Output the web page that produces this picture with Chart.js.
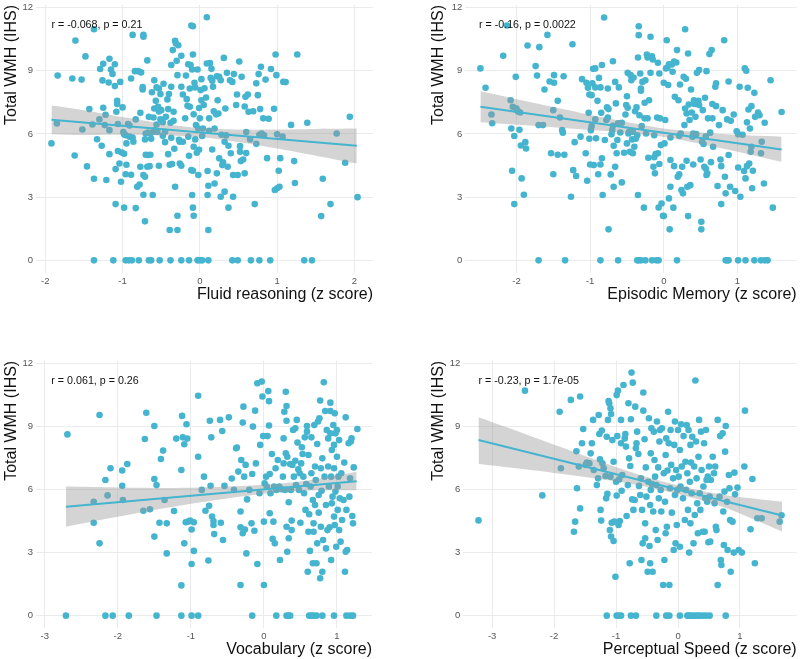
<!DOCTYPE html>
<html><head><meta charset="utf-8">
<script src="https://cdn.jsdelivr.net/npm/chart.js@4.4.1/dist/chart.umd.min.js"></script>
<style>
html,body{margin:0;padding:0;background:#fff;width:800px;height:659px;overflow:hidden}
canvas{position:absolute}
</style></head><body>
<canvas id="c1" width="400" height="330" style="left:0;top:0"></canvas>
<canvas id="c2" width="400" height="330" style="left:400px;top:0"></canvas>
<canvas id="c3" width="400" height="329" style="left:0;top:330px"></canvas>
<canvas id="c4" width="400" height="329" style="left:400px;top:330px"></canvas>
<script>
// ---------- data (z score, Total WMH (IHS)) ----------
const fluidPts = [[-1.92,5.55],[-1.84,8.77],[-1.85,6.5],[-1.61,10.43],[-1.65,8.63],[-1.62,4.98],[-1.53,8.58],[-1.52,6.21],[-1.48,9.68],[-1.46,4.46],[-1.43,7.18],[-1.37,10.97],[-1.37,3.87],[-1.39,6.45],[-1.33,5.75],[-1.30,6.69],[-1.29,9.08],[-1.27,5.44],[-1.26,8.54],[-1.25,9.33],[-1.25,7.24],[-1.23,6.42],[-1.22,6.91],[-1.21,3.81],[-1.18,8.44],[-1.17,9.57],[-1.17,5.04],[-1.17,6.18],[-1.15,9.06],[-1.13,8.85],[-1.10,9.31],[-1.10,8.27],[-1.09,2.67],[-1.09,4.33],[-1.08,7.05],[-1.07,7.57],[-1.07,7.42],[-1.06,6.47],[-1.06,5.19],[-1.04,4.6],[-1.03,8.47],[-1.02,3.73],[-1.01,5.12],[-1.00,7.26],[-0.99,6.09],[-0.98,5.06],[-0.98,2.5],[-0.98,5.98],[-0.96,5.94],[-0.96,4.09],[-0.95,4.54],[-0.95,5.55],[-0.93,6.47],[-0.91,6.4],[-0.91,5.87],[-0.89,8.63],[-0.87,10.7],[-0.87,5.83],[-0.89,4.06],[-0.86,5.63],[-0.84,8.98],[-0.83,2.48],[-0.83,6.69],[-0.81,3.49],[-0.80,8.98],[-0.78,3.6],[-0.77,4.44],[-0.77,7.0],[-0.76,8.92],[-0.74,8.11],[-0.74,8.22],[-0.73,10.7],[-0.73,10.61],[-0.73,3.11],[-0.73,4.05],[-0.71,1.85],[-0.71,3.97],[-0.71,5.74],[-0.70,6.02],[-0.70,5.01],[-0.68,9.49],[-0.68,4.44],[-0.67,5.0],[-0.67,6.07],[-0.66,6.81],[-0.65,4.47],[-0.64,5.01],[-0.64,6.02],[-0.63,5.77],[-0.62,7.98],[-0.61,3.1],[-0.60,6.1],[-0.60,6.78],[-0.59,8.55],[-0.59,7.21],[-0.58,6.18],[-0.57,7.57],[-0.56,8.21],[-0.56,6.45],[-0.55,6.1],[-0.54,7.29],[-0.53,4.49],[-0.53,8.16],[-0.53,7.07],[-0.51,7.89],[-0.51,6.69],[-0.50,7.13],[-0.48,5.91],[-0.48,6.56],[-0.47,8.38],[-0.45,5.61],[-0.45,6.1],[-0.44,6.81],[-0.42,7.64],[-0.41,7.18],[-0.41,5.04],[-0.40,7.89],[-0.39,1.44],[-0.39,4.54],[-0.38,6.53],[-0.37,5.82],[-0.37,9.27],[-0.37,8.24],[-0.36,4.57],[-0.35,9.98],[-0.34,7.05],[-0.34,6.62],[-0.33,5.3],[-0.32,3.49],[-0.32,10.42],[-0.31,10.29],[-0.30,9.47],[-0.29,2.12],[-0.29,1.44],[-0.29,8.79],[-0.28,10.21],[-0.27,5.72],[-0.26,4.6],[-0.26,5.63],[-0.24,9.71],[-0.24,8.24],[-0.24,4.49],[-0.22,5.63],[-0.22,7.87],[-0.19,6.74],[-0.18,8.77],[-0.17,7.65],[-0.16,7.34],[-0.15,9.31],[-0.15,5.87],[-0.14,4.96],[-0.13,7.29],[-0.13,8.16],[-0.12,9.27],[-0.11,4.28],[-0.11,11.15],[-0.09,11.11],[-0.10,9.06],[-0.09,9.77],[-0.10,3.1],[-0.09,2.5],[-0.08,2.12],[-0.09,4.25],[-0.08,5.39],[-0.08,6.93],[-0.07,8.43],[-0.06,5.74],[-0.06,8.21],[-0.05,6.42],[-0.04,5.11],[-0.03,9.06],[-0.02,6.26],[-0.02,4.05],[-0.01,5.25],[-0.01,7.23],[0,6.74],[0.01,8.08],[0.02,7.6],[0.02,8.6],[0.03,5.9],[0.04,6.26],[0.05,7.37],[0.06,8.17],[0.08,7.73],[0.09,9.34],[0.09,11.54],[0.10,4.24],[0.10,3.1],[0.11,1.44],[0.11,3.54],[0.12,6.74],[0.12,6.15],[0.13,9.36],[0.14,8.66],[0.15,9.09],[0.16,5.26],[0.16,8.52],[0.17,8.24],[0.18,7.08],[0.19,3.65],[0.19,6.26],[0.21,6.93],[0.22,4.13],[0.22,8.74],[0.23,7.6],[0.24,6.97],[0.25,4.84],[0.25,8.71],[0.27,3.02],[0.27,8.55],[0.28,5.96],[0.29,4.52],[0.30,4.65],[0.31,9.61],[0.32,5.63],[0.32,3.26],[0.33,7.21],[0.34,5.93],[0.35,8.9],[0.36,4.44],[0.37,2.5],[0.37,5.44],[0.39,8.55],[0.40,5.08],[0.42,8.47],[0.43,3.02],[0.43,4.05],[0.44,8.84],[0.47,7.37],[0.48,7.87],[0.49,4.05],[0.51,9.44],[0.52,5.42],[0.52,5.15],[0.53,4.71],[0.54,8.71],[0.56,4.79],[0.58,7.3],[0.58,4.13],[0.59,7.76],[0.60,5.09],[0.60,6.09],[0.62,7.87],[0.63,7.05],[0.65,5.74],[0.69,7.08],[0.71,2.67],[0.73,8.4],[0.73,5.53],[0.75,7.84],[0.76,8.84],[0.77,5.96],[0.78,7.18],[0.79,9.19],[0.80,6.02],[0.82,6.74],[0.83,5.94],[0.85,8.58],[0.87,4.85],[0.89,6.72],[0.92,9.08],[0.96,7.19],[0.97,3.34],[0.98,9.77],[0.99,8.79],[1.00,3.42],[1.00,5.98],[1.02,4.25],[1.03,3.49],[1.04,4.85],[1.08,8.47],[1.11,8.46],[1.07,5.87],[1.18,6.43],[1.22,4.71],[1.23,3.67],[1.26,9.77],[1.39,6.53],[1.57,2.1],[1.59,3.87],[1.69,2.67],[1.77,6.02],[1.88,4.63],[1.94,6.81],[2.04,3.0],
[-1.37,0],[-1.12,0],[-0.96,0],[-0.92,0],[-0.88,0],[-0.79,0],[-0.66,0],[-0.63,0],[-0.52,0],[-0.38,0],[-0.24,0],[-0.14,0],[-0.03,0],[0,0],[0.03,0],[0.11,0],[0.42,0],[0.49,0],[0.66,0],[0.77,0],[0.91,0],[1.35,0],[1.45,0]];

const episodicPts = [[-2.49,9.11],[-2.42,8.19],[-2.34,6.92],[-2.33,6.51],[-2.18,9.71],[-2.13,11.15],[-2.08,7.6],[-2.07,6.26],[-2.06,4.25],[-2.05,7.29],[-2.03,5.9],[-2.03,2.67],[-2.01,8.71],[-2.00,7.21],[-1.98,7.07],[-1.96,6.2],[-1.95,7.02],[-1.94,5.45],[-1.93,3.89],[-1.90,3.11],[-1.88,5.61],[-1.87,5.31],[-1.85,10.2],[-1.74,9.22],[-1.72,8.77],[-1.70,6.42],[-1.69,10.12],[-1.64,6.42],[-1.62,8.11],[-1.58,10.7],[-1.55,8.49],[-1.53,5.08],[-1.50,4.09],[-1.50,7.13],[-1.49,8.43],[-1.49,8.79],[-1.44,7.57],[-1.44,5.01],[-1.41,6.78],[-1.38,6.18],[-1.37,6.06],[-1.36,8.74],[-1.35,5.01],[-1.24,10.26],[-1.26,3.02],[-1.23,4.28],[-1.21,5.61],[-1.19,4.0],[-1.13,5.87],[-1.11,8.6],[-1.06,5.08],[-1.05,8.43],[-1.04,3.78],[-1.03,8.19],[-1.02,7.0],[-1.01,5.77],[-1.01,7.87],[-1.00,4.55],[-0.99,6.18],[-0.98,6.37],[-0.98,7.84],[-0.97,8.4],[-0.96,9.09],[-0.95,4.52],[-0.93,9.11],[-0.93,6.69],[-0.93,8.21],[-0.92,5.79],[-0.90,7.57],[-0.89,4.09],[-0.88,8.66],[-0.86,4.55],[-0.86,8.21],[-0.85,7.0],[-0.84,4.84],[-0.84,9.27],[-0.83,3.1],[-0.81,11.53],[-0.80,5.71],[-0.78,6.66],[-0.77,7.26],[-0.76,8.16],[-0.76,6.78],[-0.75,1.47],[-0.75,7.18],[-0.72,4.08],[-0.71,5.98],[-0.70,6.18],[-0.69,9.45],[-0.69,6.39],[-0.68,5.44],[-0.68,3.49],[-0.66,4.44],[-0.66,8.47],[-0.65,7.45],[-0.64,5.08],[-0.63,5.71],[-0.62,6.5],[-0.61,8.21],[-0.59,6.07],[-0.57,6.53],[-0.57,3.7],[-0.54,5.11],[-0.52,6.92],[-0.51,7.37],[-0.50,5.55],[-0.50,7.79],[-0.49,8.9],[-0.49,7.24],[-0.48,6.02],[-0.47,6.1],[-0.46,5.15],[-0.45,8.79],[-0.44,8.55],[-0.43,5.74],[-0.42,6.1],[-0.42,5.08],[-0.41,8.68],[-0.40,5.39],[-0.39,7.08],[-0.38,5.77],[-0.37,7.26],[-0.36,5.94],[-0.35,3.1],[-0.35,9.63],[-0.34,11.11],[-0.34,10.69],[-0.33,6.89],[-0.32,8.87],[-0.31,8.16],[-0.31,8.05],[-0.30,6.37],[-0.29,8.47],[-0.27,2.5],[-0.26,6.74],[-0.26,7.48],[-0.25,8.55],[-0.24,6.02],[-0.23,9.77],[-0.22,9.63],[-0.22,6.74],[-0.21,4.87],[-0.20,7.6],[-0.18,10.61],[-0.18,8.9],[-0.16,9.69],[-0.15,9.53],[-0.14,4.44],[-0.13,5.94],[-0.13,4.89],[-0.12,4.13],[-0.11,5.04],[-0.09,6.78],[-0.08,9.38],[-0.08,5.08],[-0.07,2.51],[-0.06,8.87],[-0.06,4.57],[-0.05,6.74],[-0.04,5.47],[-0.03,2.7],[-0.01,2.12],[0,2.1],[0,8.43],[0.01,5.55],[0.02,6.66],[0.03,9.11],[0.04,10.45],[0.05,9.14],[0.06,8.32],[0.07,9.31],[0.07,2.94],[0.08,1.47],[0.09,5.83],[0.09,4.76],[0.09,3.49],[0.11,9.3],[0.12,8.95],[0.13,2.5],[0.14,9.44],[0.14,4.47],[0.15,7.76],[0.17,9.39],[0.18,9.98],[0.19,3.97],[0.20,7.6],[0.21,4.09],[0.21,5.91],[0.22,8.35],[0.23,6.02],[0.24,3.34],[0.25,4.44],[0.26,3.18],[0.27,8.71],[0.28,6.42],[0.29,10.97],[0.29,7.21],[0.30,8.62],[0.31,4.73],[0.31,6.97],[0.32,3.49],[0.33,9.82],[0.33,2.1],[0.34,7.4],[0.35,6.66],[0.36,3.57],[0.37,8.11],[0.38,7.02],[0.39,5.87],[0.40,6.02],[0.40,4.55],[0.41,7.6],[0.42,7.42],[0.43,6.81],[0.44,5.99],[0.45,8.9],[0.47,7.57],[0.48,9.03],[0.48,7.37],[0.50,4.79],[0.51,1.83],[0.51,1.47],[0.52,5.63],[0.53,7.13],[0.54,5.52],[0.55,4.44],[0.56,7.72],[0.57,5.87],[0.57,4.36],[0.58,4.05],[0.58,8.98],[0.59,4.13],[0.60,6.74],[0.62,9.79],[0.63,6.06],[0.64,4.66],[0.65,9.98],[0.66,7.42],[0.66,6.74],[0.67,5.39],[0.70,8.24],[0.71,8.4],[0.71,7.32],[0.73,3.53],[0.75,6.42],[0.77,4.79],[0.78,4.47],[0.78,2.67],[0.80,7.13],[0.82,10.45],[0.83,3.97],[0.84,3.18],[0.86,6.69],[0.88,8.49],[0.88,5.0],[0.90,3.49],[0.91,6.62],[0.95,6.92],[0.97,3.29],[0.99,6.13],[1.01,5.99],[1.01,4.41],[1.03,8.24],[1.04,3.02],[1.07,5.96],[1.09,4.24],[1.10,9.11],[1.11,3.89],[1.12,9.0],[1.13,4.47],[1.13,6.55],[1.14,8.19],[1.15,7.16],[1.16,4.6],[1.17,6.26],[1.18,5.15],[1.19,7.32],[1.19,5.39],[1.20,3.42],[1.21,4.25],[1.23,7.95],[1.24,6.81],[1.28,7.02],[1.30,6.89],[1.32,5.08],[1.33,5.63],[1.36,3.65],[1.37,6.53],[1.45,8.55],[1.48,2.5],[1.60,7.04],
[-1.70,0],[-1.34,0],[-0.86,0],[-0.62,0],[-0.36,0],[-0.34,0],[-0.31,0],[-0.25,0],[-0.16,0],[-0.10,0],[-0.07,0],[0.18,0],[0.84,0],[0.86,0],[0.88,0],[1.01,0],[1.11,0],[1.23,0],[1.32,0],[1.37,0],[1.41,0]];

const vocabPts = [[-2.69,8.62],[-2.33,5.42],[-2.33,4.42],[-2.25,9.54],[-2.25,3.44],[-2.17,6.45],[-2.14,5.72],[-2.10,7.01],[-1.94,6.9],[-1.94,6.18],[-1.93,5.5],[-1.87,7.21],[-1.65,4.99],[-1.63,8.4],[-1.61,9.65],[-1.56,5.06],[-1.50,9.02],[-1.50,6.5],[-1.50,3.76],[-1.47,6.21],[-1.43,4.42],[-1.41,7.45],[-1.38,7.85],[-1.36,5.5],[-1.33,2.96],[-1.33,4.39],[-1.23,4.98],[-1.20,8.42],[-1.13,6.93],[-1.13,1.44],[-1.12,9.5],[-1.11,8.48],[-1.09,8.15],[-1.09,3.44],[-1.07,4.44],[-1.06,9.1],[-1.05,8.42],[-1.04,4.47],[-1.01,4.52],[-0.99,4.1],[-0.99,2.46],[-0.96,3.08],[-0.96,4.44],[-0.90,10.46],[-0.90,7.56],[-0.85,5.98],[-0.82,6.61],[-0.80,4.99],[-0.76,2.62],[-0.75,5.23],[-0.74,9.27],[-0.73,6.18],[-0.72,8.48],[-0.71,4.71],[-0.69,4.31],[-0.69,4.5],[-0.68,3.88],[-0.60,9.31],[-0.59,4.42],[-0.57,8.78],[-0.56,3.6],[-0.54,6.17],[-0.48,9.43],[-0.44,6.52],[-0.41,5.98],[-0.38,7.96],[-0.37,8.0],[-0.35,6.85],[-0.32,4.95],[-0.32,1.46],[-0.32,4.2],[-0.31,7.4],[-0.29,3.92],[-0.29,9.18],[-0.28,9.94],[-0.27,6.61],[-0.26,4.1],[-0.25,7.17],[-0.24,2.96],[-0.23,5.53],[-0.20,5.98],[-0.17,4.39],[-0.16,6.74],[-0.15,8.99],[-0.13,4.04],[-0.12,9.75],[-0.11,7.24],[-0.09,2.46],[-0.09,11.05],[-0.06,5.82],[-0.05,8.12],[-0.03,11.13],[-0.02,10.42],[-0.01,8.54],[0,1.46],[0,4.47],[0.01,6.29],[0.03,6.61],[0.04,6.14],[0.05,8.54],[0.06,10.68],[0.07,9.04],[0.07,10.2],[0.08,6.74],[0.08,4.87],[0.09,5.82],[0.11,7.69],[0.12,3.65],[0.13,4.47],[0.14,6.14],[0.15,3.44],[0.16,7.01],[0.17,5.98],[0.19,7.4],[0.21,6.14],[0.22,2.65],[0.24,6.01],[0.26,6.61],[0.27,8.43],[0.27,7.24],[0.28,9.7],[0.29,5.98],[0.30,7.72],[0.30,10.65],[0.31,4.23],[0.31,9.27],[0.31,9.97],[0.32,3.04],[0.32,7.56],[0.34,5.39],[0.34,3.68],[0.36,7.21],[0.37,5.98],[0.38,4.07],[0.38,4.52],[0.39,7.17],[0.40,8.83],[0.41,6.61],[0.43,8.91],[0.43,7.37],[0.44,6.21],[0.45,9.31],[0.46,8.23],[0.47,6.96],[0.48,5.98],[0.49,6.77],[0.50,4.42],[0.51,7.24],[0.52,8.01],[0.53,7.69],[0.54,6.61],[0.55,5.82],[0.56,8.48],[0.57,5.03],[0.58,6.26],[0.59,9.02],[0.59,8.75],[0.60,2.09],[0.61,3.99],[0.61,7.64],[0.62,4.82],[0.63,3.08],[0.64,6.14],[0.65,8.48],[0.65,6.77],[0.67,5.5],[0.67,2.49],[0.68,3.99],[0.68,4.39],[0.69,9.07],[0.70,7.09],[0.70,5.26],[0.71,6.45],[0.72,2.49],[0.73,8.16],[0.73,3.44],[0.74,9.23],[0.75,5.74],[0.75,4.9],[0.76,9.39],[0.77,10.23],[0.77,1.78],[0.78,7.01],[0.78,4.23],[0.79,5.94],[0.80,7.48],[0.80,2.09],[0.81,3.6],[0.82,11.1],[0.83,6.61],[0.84,9.73],[0.85,5.26],[0.85,3.2],[0.86,8.83],[0.87,4.07],[0.88,7.09],[0.88,8.43],[0.89,6.14],[0.90,4.2],[0.91,9.73],[0.91,10.13],[0.91,8.67],[0.92,6.61],[0.92,2.65],[0.93,5.34],[0.93,7.88],[0.94,5.66],[0.95,9.07],[0.96,7.01],[0.96,8.12],[0.96,4.71],[0.97,9.62],[0.97,4.31],[0.98,8.67],[0.98,5.9],[0.99,3.28],[1.00,7.56],[1.00,8.83],[1.01,6.14],[1.01,5.03],[1.02,6.61],[1.03,4.07],[1.03,8.35],[1.04,5.58],[1.05,3.52],[1.06,6.77],[1.07,4.55],[1.09,5.5],[1.10,7.28],[1.11,2.09],[1.12,9.43],[1.12,3.04],[1.13,5.03],[1.14,3.12],[1.16,8.2],[1.17,5.66],[1.18,6.53],[1.19,8.28],[1.20,8.43],[1.21,4.74],[1.22,4.39],[1.23,7.05],[1.28,8.88],
[-2.71,0],[-2.17,0],[-2.07,0],[-1.85,0],[-1.47,0],[-1.13,0],[-0.99,0],[-0.90,0],[-0.16,0],[0.17,0],[0.31,0],[0.34,0],[0.36,0],[0.62,0],[0.65,0],[0.68,0],[0.72,0],[0.80,0],[0.96,0],[1.13,0],[1.18,0],[1.22,0]];

const speedPts = [[-3.22,4.53],[-2.47,10.7],[-2.19,5.72],[-1.91,9.7],[-1.89,7.01],[-1.73,10.26],[-1.68,3.99],[-1.66,4.47],[-1.64,7.82],[-1.63,6.06],[-1.60,7.09],[-1.58,5.1],[-1.58,10.42],[-1.55,8.2],[-1.53,8.88],[-1.49,7.17],[-1.47,7.28],[-1.43,7.24],[-1.41,7.72],[-1.39,8.2],[-1.37,9.31],[-1.36,6.93],[-1.31,6.21],[-1.29,6.53],[-1.28,9.54],[-1.27,8.64],[-1.26,7.43],[-1.25,5.03],[-1.24,4.52],[-1.23,8.8],[-1.22,7.24],[-1.20,7.01],[-1.17,6.64],[-1.16,5.58],[-1.15,8.51],[-1.14,5.79],[-1.13,9.31],[-1.12,10.2],[-1.11,10.1],[-1.10,4.07],[-1.09,9.86],[-1.09,6.61],[-1.08,9.59],[-1.08,3.76],[-1.07,4.42],[-1.06,8.35],[-1.04,3.55],[-1.04,7.32],[-1.03,4.47],[-1.01,1.85],[-1.00,6.37],[-0.99,10.49],[-0.99,5.71],[-0.98,8.54],[-0.97,10.7],[-0.96,4.31],[-0.95,6.48],[-0.94,4.5],[-0.92,8.2],[-0.92,9.31],[-0.91,5.94],[-0.90,6.69],[-0.88,10.97],[-0.86,8.43],[-0.85,8.64],[-0.84,8.04],[-0.83,4.74],[-0.81,6.21],[-0.80,10.1],[-0.79,7.48],[-0.78,2.49],[-0.77,7.12],[-0.76,9.34],[-0.75,11.56],[-0.74,5.53],[-0.73,11.08],[-0.72,5.03],[-0.70,5.5],[-0.69,9.94],[-0.68,7.96],[-0.67,8.2],[-0.66,8.75],[-0.64,7.69],[-0.63,6.17],[-0.61,5.74],[-0.60,6.53],[-0.59,2.65],[-0.58,5.03],[-0.57,3.44],[-0.56,10.61],[-0.56,9.75],[-0.54,8.39],[-0.53,4.39],[-0.53,3.68],[-0.52,7.05],[-0.51,5.66],[-0.49,2.09],[-0.48,6.37],[-0.47,9.39],[-0.46,3.31],[-0.45,2.49],[-0.45,5.26],[-0.44,7.72],[-0.44,5.98],[-0.43,8.91],[-0.42,6.26],[-0.41,2.09],[-0.40,4.95],[-0.39,8.75],[-0.38,7.4],[-0.37,6.61],[-0.36,4.07],[-0.35,6.21],[-0.34,9.23],[-0.33,3.6],[-0.32,7.05],[-0.31,5.58],[-0.30,8.28],[-0.29,8.83],[-0.28,5.98],[-0.27,4.95],[-0.26,8.91],[-0.24,1.46],[-0.23,6.77],[-0.22,2.65],[-0.21,5.42],[-0.20,3.92],[-0.20,7.64],[-0.19,8.43],[-0.18,4.23],[-0.17,6.9],[-0.16,9.7],[-0.15,8.2],[-0.14,1.46],[-0.13,6.06],[-0.12,8.83],[-0.11,7.17],[-0.10,4.9],[-0.08,6.53],[-0.07,3.12],[-0.06,8.12],[-0.05,5.74],[-0.05,9.23],[-0.04,3.44],[-0.03,6.93],[-0.02,4.31],[-0.01,5.98],[0,8.83],[0.01,6.61],[0.03,3.28],[0.03,7.88],[0.04,6.14],[0.05,9.1],[0.06,7.09],[0.08,5.58],[0.09,8.54],[0.11,4.55],[0.12,7.32],[0.13,5.98],[0.14,9.07],[0.15,6.77],[0.16,5.03],[0.17,8.83],[0.18,3.0],[0.19,6.37],[0.20,8.12],[0.20,4.39],[0.21,7.28],[0.22,5.82],[0.23,8.51],[0.25,3.44],[0.26,7.09],[0.27,4.79],[0.28,11.18],[0.29,8.28],[0.30,6.53],[0.31,5.34],[0.32,3.92],[0.33,7.56],[0.34,9.31],[0.35,5.82],[0.36,5.03],[0.37,8.75],[0.38,6.93],[0.40,3.99],[0.41,6.14],[0.42,8.2],[0.43,3.99],[0.44,5.58],[0.45,8.83],[0.46,6.45],[0.47,5.42],[0.48,6.61],[0.49,3.49],[0.50,7.09],[0.51,5.66],[0.52,3.52],[0.53,6.45],[0.56,7.56],[0.58,6.77],[0.59,5.34],[0.60,7.09],[0.61,4.23],[0.62,4.07],[0.64,1.46],[0.64,9.31],[0.67,5.66],[0.68,8.54],[0.69,2.65],[0.70,2.41],[0.72,8.67],[0.73,4.95],[0.74,3.36],[0.75,5.9],[0.76,7.8],[0.77,9.02],[0.79,5.42],[0.80,3.12],[0.82,6.69],[0.83,6.06],[0.84,4.55],[0.85,2.09],[0.88,4.47],[0.90,3.0],[0.91,6.8],[0.92,5.77],[0.96,6.09],[0.98,3.12],[1.03,3.0],[1.07,7.09],[1.08,9.75],[1.20,6.5],[1.17,4.11],[1.24,2.49],[1.28,4.63],[1.35,4.63],[1.64,4.47],[1.67,4.77],
[-1.15,0],[-0.99,0],[-0.96,0],[-0.92,0],[-0.76,0],[-0.68,0],[-0.35,0],[-0.19,0],[-0.14,0],[0.03,0],[0.15,0],[0.17,0],[0.20,0],[0.24,0],[0.28,0],[0.32,0],[0.35,0],[0.40,0],[0.45,0],[0.51,0],[0.77,0]];

// regression fits
const fitX = [[-1.92, 2.03], [-2.49, 1.60], [-2.71, 1.27], [-3.22, 1.68]];
const fitY = [[6.67, 5.44], [7.29, 5.26], [5.18, 6.39], [8.35, 4.76]];
// 95% confidence bands
const bandX  = [[-1.92,-1.5,-1,-0.5,0,0.5,1,1.5,2.03],[-2.49,-1.5,-0.75,0,0.75,1.6],[-2.71,-2,-1,0,0.6,1.27],[-3.22,-2.5,-1.5,-0.75,0,0.75,1.68]];
const bandLo = [[5.99,5.95,5.96,5.93,5.86,5.62,5.31,4.97,4.6],[6.55,6.32,6.13,5.86,5.35,4.68],[4.23,4.7,5.32,5.8,5.95,5.96],[7.21,6.97,6.59,6.26,5.79,5.14,4.0]];
const bandHi = [[7.35,7.13,6.8,6.5,6.28,6.21,6.21,6.24,6.26],[8.03,7.28,6.73,6.26,6.01,5.87],[6.14,6.1,6.08,6.22,6.43,6.84],[9.43,8.67,7.59,6.82,6.19,5.74,5.42]];

const xTicks = [[-2,-1,0,1,2],[-2,-1,0,1],[-3,-2,-1,0,1],[-3,-2,-1,0,1]];
const yTicks = [0,3,6,9,12];
const xRange = [[-2.12,2.24],[-2.695,1.805],[-3.12,1.48],[-3.465,1.915]];
const yRange = [-0.577,12.12];
const xTitles = ['Fluid reasoning (z score)','Episodic Memory (z score)','Vocabulary (z score)','Perceptual Speed (z score)'];
const yTitle = 'Total WMH (IHS)';
const statLabels = ['r = -0.068, p = 0.21','r = -0.16, p = 0.0022','r = 0.061, p = 0.26','r = -0.23, p = 1.7e-05'];
const statPos = [[-1.92,11.15],[-2.51,11.15],[-2.91,11.15],[-3.22,11.15]];

// ---------- layout / style ----------
const FONT = "'Liberation Sans', Arial, Helvetica, sans-serif";
const BLUE = '#45b4cf';
const layouts = [
  {pad:{left:0,top:5,right:27,bottom:0},   yW:36,   xH:57.5, yTP:4,  xTP:27},
  {pad:{left:0,top:5,right:0.8,bottom:0},  yW:65.3, xH:57.5, yTP:31, xTP:27},
  {pad:{left:0,top:30.8,right:28,bottom:0},yW:36,   xH:31.2, yTP:4,  xTP:1},
  {pad:{left:0,top:30.8,right:0.7,bottom:0},yW:63.3,xH:31.2, yTP:31, xTP:1}
];
const allPts = [fluidPts, episodicPts, vocabPts, speedPts];

Chart.defaults.font.family = FONT;

function zeroPad(s){ s.paddingLeft=0; s.paddingRight=0; s.paddingTop=0; s.paddingBottom=0; }

function makePanel(i){
  const L = layouts[i];
  const statPlugin = {
    id:'stat'+i,
    afterDatasetsDraw(chart){
      const c = chart.ctx;
      c.save();
      c.font = '10.7px ' + FONT;
      c.fillStyle = '#111';
      c.textAlign = 'left';
      c.textBaseline = 'middle';
      c.fillText(statLabels[i], chart.scales.x.getPixelForValue(statPos[i][0]), chart.scales.y.getPixelForValue(statPos[i][1]));
      c.restore();
    }
  };
  new Chart(document.getElementById('c'+(i+1)), {
    type:'scatter',
    data:{datasets:[
      {type:'line', data: fitX[i].map((x,k)=>({x, y:fitY[i][k]})), borderColor:BLUE, borderWidth:2, pointRadius:0, fill:false, order:0},
      {type:'line', data: bandX[i].map((x,k)=>({x, y:bandHi[i][k]})), borderColor:'rgba(0,0,0,0)', borderWidth:0, pointRadius:0, fill:'+1', backgroundColor:'rgba(153,153,153,0.42)', tension:0.3, order:1},
      {type:'line', data: bandX[i].map((x,k)=>({x, y:bandLo[i][k]})), borderColor:'rgba(0,0,0,0)', borderWidth:0, pointRadius:0, fill:false, tension:0.3, order:1},
      {type:'scatter', data: allPts[i].map(p=>({x:p[0], y:p[1]})), backgroundColor:BLUE, borderWidth:0, pointRadius:3.3, pointHoverRadius:3.3, order:2}
    ]},
    options:{
      responsive:false, animation:false, devicePixelRatio:1,
      layout:{padding:L.pad},
      plugins:{legend:{display:false}, tooltip:{enabled:false}},
      events:[],
      scales:{
        x:{type:'linear', min:xRange[i][0], max:xRange[i][1],
          afterBuildTicks:s=>{ s.ticks = xTicks[i].map(v=>({value:v})); },
          afterFit:s=>{ s.height = L.xH; zeroPad(s); },
          ticks:{color:'#555', font:{size:9.5}, padding:3, maxRotation:0, autoSkip:false, callback:v=>String(v)},
          grid:{color:'#ebebeb', lineWidth:1, drawTicks:false},
          border:{display:false},
          title:{display:true, text:xTitles[i], align:'end', color:'#111', font:{size:16, lineHeight:1}, padding:{top:0, bottom:L.xTP}}
        },
        y:{type:'linear', min:yRange[0], max:yRange[1],
          afterBuildTicks:s=>{ s.ticks = yTicks.map(v=>({value:v})); },
          afterFit:s=>{ s.width = L.yW; zeroPad(s); },
          ticks:{color:'#555', font:{size:9.5}, padding:3, autoSkip:false, callback:v=>String(v)},
          grid:{color:'#ebebeb', lineWidth:1, drawTicks:false},
          border:{display:false},
          title:{display:true, text:yTitle, align:'end', color:'#111', font:{size:16, lineHeight:1}, padding:{top:L.yTP, bottom:0}}
        }
      }
    },
    plugins:[statPlugin]
  });
}
[0,1,2,3].forEach(makePanel);
</script>
</body></html>
